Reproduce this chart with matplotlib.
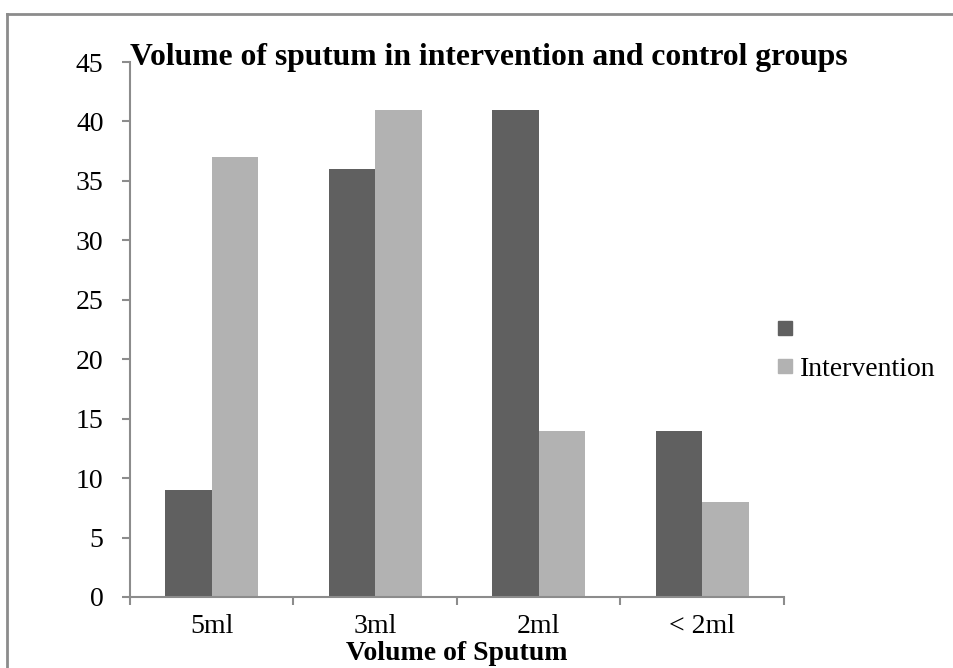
import numpy as np
import matplotlib
matplotlib.use("Agg")
import matplotlib.pyplot as plt
from matplotlib.lines import Line2D

plt.rcParams['font.family'] = ['Liberation Serif', 'DejaVu Serif']

# data
categories = ['5ml', '3ml', '2ml', '< 2ml']
control = [9, 36, 41, 14]
intervention = [37, 41, 14, 8]
series_labels = ['', 'Intervention']
yticks = [0, 5, 10, 15, 20, 25, 30, 35, 40, 45]

dark = '#606060'
light = '#b2b2b2'
axis_grey = '#8c8c8c'

W, H = 954, 668
fig = plt.figure(figsize=(W / 100, H / 100), dpi=100)
ax = fig.add_axes([130 / W, 1 - 597 / H, (784 - 130) / W, (597 - 62) / H])

x = np.arange(len(categories))
w = 0.285
ax.bar(x - w / 2, control, width=w, color=dark, label=series_labels[0])
ax.bar(x + w / 2, intervention, width=w, color=light, label=series_labels[1])

ax.set_xlim(-0.5, len(categories) - 0.5)
ax.set_ylim(0, 45)
ax.set_yticks(yticks)
ax.set_xticks(x)
ax.set_xticklabels(categories)
ax.set_xticks(np.arange(len(categories) + 1) - 0.5, minor=True)
ax.tick_params(axis='x', which='major', length=0, pad=12, labelsize=20)
ax.tick_params(axis='x', which='minor', length=6, color=axis_grey, width=1.5)
ax.tick_params(axis='y', length=6, color=axis_grey, width=1.5, labelsize=20, pad=13)

for side in ['top', 'right']:
    ax.spines[side].set_visible(False)
for side in ['left', 'bottom']:
    ax.spines[side].set_color(axis_grey)
    ax.spines[side].set_linewidth(1.5)

ax.set_xlabel('Volume of Sputum', fontsize=20, fontweight='bold', labelpad=2)
fig.text(130 / W, 1 - 65 / H, 'Volume of sputum in intervention and control groups',
         ha='left', va='baseline', fontsize=22.8, fontweight='bold')

# legend
handles = [Line2D([0], [0], marker='s', color='none', markerfacecolor=dark, markeredgecolor=dark, markersize=10),
           Line2D([0], [0], marker='s', color='none', markerfacecolor=light, markeredgecolor=light, markersize=10)]
fig.legend(handles, series_labels, loc='center left', bbox_to_anchor=(778 / W, 1 - 350 / H),
           frameon=False, fontsize=20, handlelength=0.5, handletextpad=0.3, labelspacing=0.45,
           borderaxespad=0, borderpad=0)

# chart border
fig.add_artist(Line2D([7 / W, 7 / W], [0, 1 - 14 / H], color=axis_grey, lw=2, transform=fig.transFigure))
fig.add_artist(Line2D([7 / W, 1], [1 - 14 / H, 1 - 14 / H], color=axis_grey, lw=2, transform=fig.transFigure))

fig.savefig('out.png', dpi=100)
